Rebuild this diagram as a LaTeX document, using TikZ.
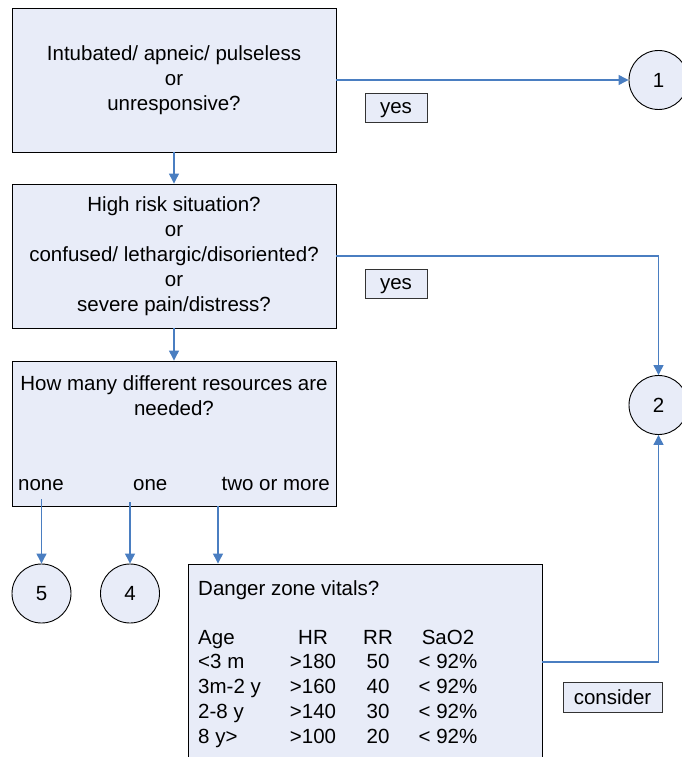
\documentclass[tikz,border=0pt]{standalone}
\usepackage{fontspec}
\setmainfont{Liberation Sans}
\usetikzlibrary{arrows.meta}
\definecolor{boxfill}{RGB}{232,236,248}
\definecolor{linkblue}{RGB}{74,126,193}
\begin{document}
\begin{tikzpicture}[x=1pt,y=-1pt,
  font=\fontsize{20.5}{25}\selectfont,
  box/.style={draw=black, line width=0.9pt, fill=boxfill, inner sep=0pt},
  qbox/.style={box, minimum width=324pt, align=center},
  circ/.style={draw=black, line width=0.9pt, fill=boxfill, circle, minimum size=59pt, inner sep=0pt},
  lbl/.style={draw=black!80, line width=0.9pt, fill=boxfill, minimum height=29pt, inner sep=0pt, text depth=0pt},
  link/.style={draw=linkblue, line width=1.2pt, -{Triangle[width=10pt,length=10pt]}},
  txt/.style={inner sep=0pt, anchor=base}
]
\useasboundingbox (0,0) rectangle (682,757);
\clip (0,0) rectangle (682,757);

% decision boxes
\node[qbox, minimum height=144pt] (q1) at (174,80) {Intubated/ apneic/ pulseless\\or\\unresponsive?};
\node[qbox, minimum height=144pt] (q2) at (174,256) {High risk situation?\\or\\confused/ lethargic/disoriented?\\or\\severe pain/distress?};
\node[box, minimum width=324pt, minimum height=145pt] (q3) at (174,433.5) {};
\node[txt] (q3a) at (174,390) {How many different resources are};
\node[txt] (q3b) at (174,415) {needed?};
\node[txt, anchor=base west] (none) at (18,490) {none};
\node[txt, anchor=base west] (one) at (133,490) {one};
\node[txt, anchor=base east] (more) at (330,490) {two or more};

\node[box, minimum width=354pt, minimum height=216pt] (q4) at (365,672) {};
\node[txt, anchor=base west] (q4t) at (198,595) {Danger zone vitals?};
\foreach \a/\h/\r/\s/\yy [count=\i] in {Age/HR/RR/SaO2/644, {<3 m}/{>180}/50/{< 92\%}/668, {3m-2 y}/{>160}/40/{< 92\%}/693, {2-8 y}/{>140}/30/{< 92\%}/718, {8 y>}/{>100}/20/{< 92\%}/743}{
  \node[txt, anchor=base west] (age\i) at (198,\yy) {\a};
  \node[txt] (hr\i) at (313,\yy) {\h};
  \node[txt] (rr\i) at (378,\yy) {\r};
  \node[txt] (sa\i) at (448,\yy) {\s};
}

% circles
\node[circ] (c1) at (658.5,80) {1};
\node[circ] (c2) at (658.5,405) {2};
\node[circ] (c5) at (41.5,593.5) {5};
\node[circ] (c4) at (130,593.5) {4};

% labels
\node[lbl, minimum width=62pt] (yes1) at (396,107.5) {yes};
\node[lbl, minimum width=62pt] (yes2) at (396,284) {yes};
\node[lbl, minimum width=99pt, minimum height=30pt] (cons) at (612.5,697) {consider};

% connector start points
\coordinate (o5) at (41.5,499);
\coordinate (o4) at (130,502);
\coordinate (o6) at (218,506);
\coordinate (q4out) at (542,662);

% connectors
\draw[link] (q1.east) -- (c1.west);
\draw[link] (q1.south) -- (q2.north);
\draw[link] (q2.east) -| (c2.north);
\draw[link] (q2.south) -- (q3.north);
\draw[link] (o5) -- (c5.north);
\draw[link] (o4) -- (c4.north);
\draw[link] (o6) -- (q4.north -| o6);
\draw[link] (q4out) -| (c2.south);
\end{tikzpicture}
\end{document}
